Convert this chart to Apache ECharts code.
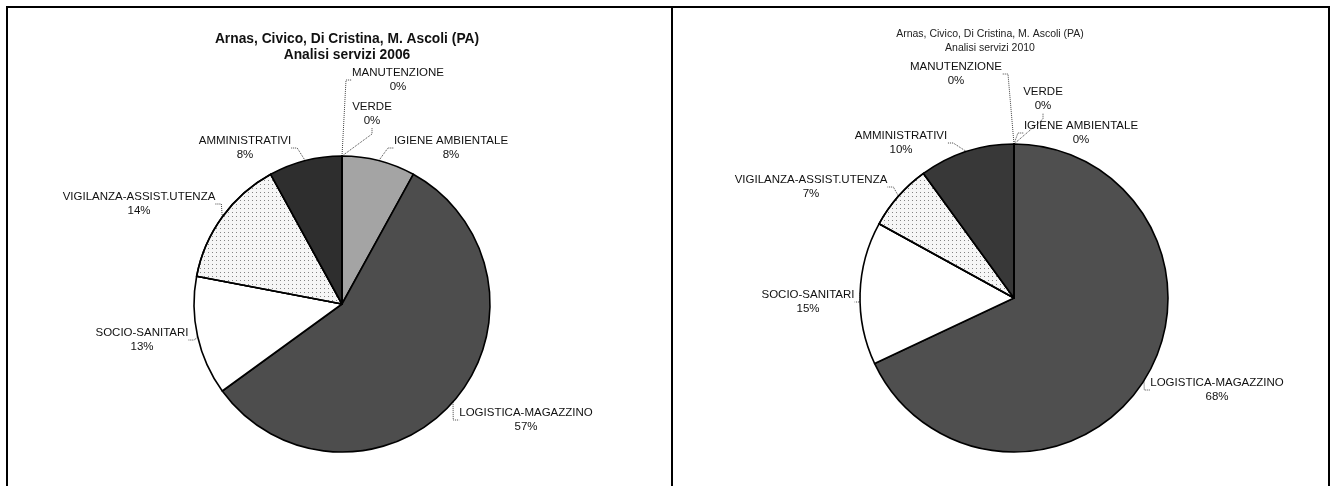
<!DOCTYPE html>
<html>
<head>
<meta charset="utf-8">
<title>Analisi servizi</title>
<script src="https://cdn.jsdelivr.net/npm/echarts@6/dist/echarts.min.js"></script>
<style>
  html, body { margin: 0; padding: 0; background: #fff; }
  #box { width: 1331px; height: 486px; }
</style>
</head>
<body>
<div id="box"></div>
<script>
// categorie, in ordine orario da ore 12
const categorie = [
  "IGIENE AMBIENTALE",
  "LOGISTICA-MAGAZZINO",
  "SOCIO-SANITARI",
  "VIGILANZA-ASSIST.UTENZA",
  "AMMINISTRATIVI",
  "VERDE",
  "MANUTENZIONE"
];
// percentuali
const valori2006 = [8, 57, 13, 14, 8, 0, 0];
const valori2010 = [0, 68, 15, 7, 10, 0, 0];

const titolo = "Arnas, Civico, Di Cristina, M. Ascoli (PA)";

// posizione delle etichette (centro del testo), stesso ordine delle categorie
const posEtichette2006 = [[451, 148], [526, 420], [142, 340], [139, 204], [245, 148], [372, 114], [398, 80]];
const posEtichette2010 = [[1081, 133], [1217, 390], [808, 302], [811, 187], [901, 143], [1043, 99], [956, 74]];

// riempimenti in scala di grigi (come la stampa originale)
const dots = {
  symbol: "rect",
  symbolSize: 1,
  color: "rgba(40,40,40,0.55)",
  dashArrayX: [1, 3],
  dashArrayY: [1, 3],
  rotation: 0
};
const colori2006 = ["#a4a4a4", "#4d4d4d", "#ffffff", "#f6f6f6", "#2e2e2e", "#888", "#888"];
const colori2010 = ["#a4a4a4", "#4f4f4f", "#ffffff", "#f6f6f6", "#383838", "#888", "#888"];

function buildData(valori, colori) {
  return categorie.map((nome, i) => {
    const item = { name: nome, value: valori[i], itemStyle: { color: colori[i] } };
    if (nome === "VIGILANZA-ASSIST.UTENZA") {
      item.itemStyle.decal = dots;
    }
    return item;
  });
}

function pieSeries(valori, colori, center, radius, pos) {
  return {
    type: "pie",
    center: center,
    radius: radius,
    startAngle: 90,
    clockwise: true,
    percentPrecision: 0,
    avoidLabelOverlap: false,
    animation: false,
    itemStyle: { borderColor: "#000", borderWidth: 1.6 },
    label: {
      show: true,
      formatter: "{b}\n{d}%",
      fontFamily: "Liberation Sans, Arial, sans-serif",
      fontSize: 11.5,
      color: "#111",
      lineHeight: 14,
      align: "center"
    },
    labelLine: {
      show: true,
      length: 8,
      length2: 6,
      lineStyle: { color: "#444", width: 1, type: "dotted" }
    },
    labelLayout: function (params) {
      const p = pos[params.dataIndex];
      return { x: p[0], y: p[1], align: "center", verticalAlign: "middle" };
    },
    emphasis: { disabled: true },
    data: buildData(valori, colori)
  };
}

let myCharts = echarts.init(document.getElementById("box"));
myCharts.setOption({
  backgroundColor: "#fff",
  aria: { enabled: false, decal: { show: true } },
  title: [
    {
      text: titolo + "\nAnalisi servizi 2006",
      left: 342,
      top: 26,
      textAlign: "center",
      textStyle: {
        fontFamily: "Liberation Sans, Arial, sans-serif",
        fontSize: 13.8,
        fontWeight: "bold",
        lineHeight: 16,
        color: "#111"
      }
    },
    {
      text: titolo + "\nAnalisi servizi 2010",
      left: 985,
      top: 22,
      textAlign: "center",
      textStyle: {
        fontFamily: "Liberation Sans, Arial, sans-serif",
        fontSize: 10.5,
        fontWeight: "normal",
        lineHeight: 14,
        color: "#222"
      }
    }
  ],
  graphic: [
    {
      type: "polyline",
      shape: { points: [[7, 500], [7, 7], [1329, 7], [1329, 500]] },
      style: { stroke: "#000", lineWidth: 2, fill: null }
    },
    {
      type: "line",
      shape: { x1: 672, y1: 7, x2: 672, y2: 500 },
      style: { stroke: "#000", lineWidth: 2 }
    }
  ],
  series: [
    pieSeries(valori2006, colori2006, [342, 304], 148, posEtichette2006),
    pieSeries(valori2010, colori2010, [1014, 298], 154, posEtichette2010)
  ]
});
</script>
</body>
</html>
